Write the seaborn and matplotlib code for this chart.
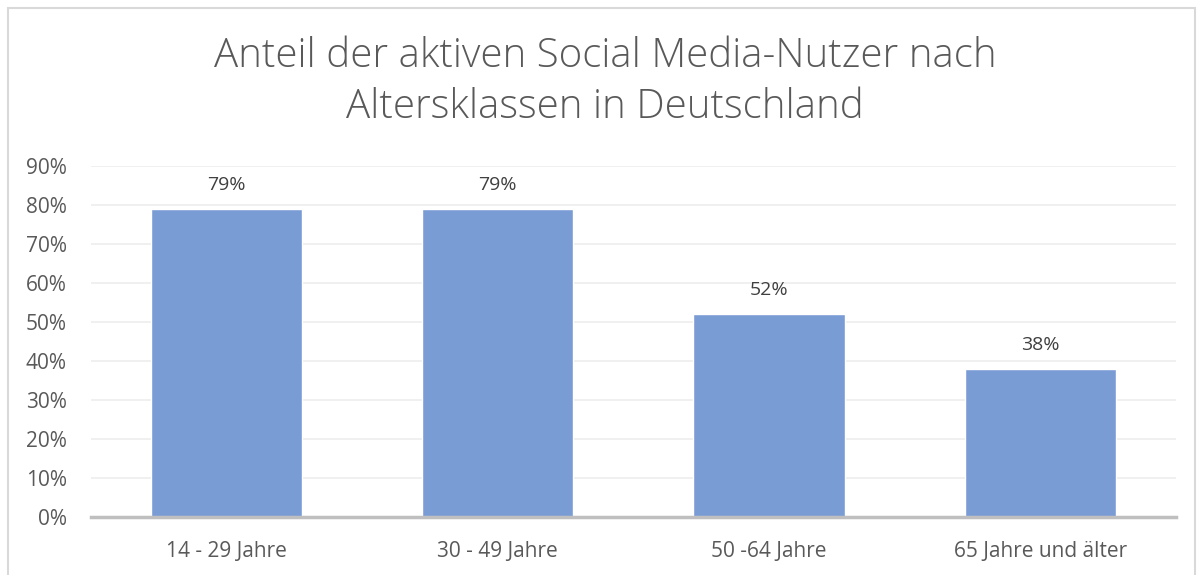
import matplotlib
matplotlib.use("Agg")
import matplotlib.pyplot as plt
import matplotlib.patches as mpatches
from matplotlib.ticker import PercentFormatter
import pandas as pd
import seaborn as sns

categories = ["14 - 29 Jahre", "30 - 49 Jahre", "50 -64 Jahre", "65 Jahre und älter"]
shares = [0.79, 0.79, 0.52, 0.38]
value_labels = ["79%", "79%", "52%", "38%"]
title = "Anteil der aktiven Social Media-Nutzer nach\nAltersklassen in Deutschland"

df = pd.DataFrame({"group": categories, "share": shares})

sns.set_style("white")
plt.rcParams["font.family"] = ["Open Sans", "DejaVu Sans"]

fig = plt.figure(figsize=(11.99, 5.75), dpi=100)
ax = fig.add_axes([90.5 / 1199, 1 - 517 / 575, (1176 - 90.5) / 1199, (517 - 166) / 575])

sns.barplot(data=df, x="group", y="share", color="#7A9CD5", saturation=1,
            width=0.557, ax=ax, zorder=3)

ax.set_ylim(0, 0.9)
ax.set_xlim(-0.5, 3.5)
ax.yaxis.set_major_formatter(PercentFormatter(1.0, decimals=0))
ax.set_yticks([i / 10 for i in range(10)])
ax.grid(axis="y", color="#EDEDED", linewidth=1.2, zorder=0)
ax.set_xlabel("")
ax.set_ylabel("")
for s in ["top", "right", "left"]:
    ax.spines[s].set_visible(False)
ax.spines["bottom"].set_color("#BFBFBF")
ax.spines["bottom"].set_linewidth(2.5)
ax.spines["bottom"].set_zorder(4)
ax.tick_params(axis="both", length=0, labelsize=15, labelcolor="#595959")
ax.tick_params(axis="x", pad=17)
ax.tick_params(axis="y", pad=17)

for i, (v, lab) in enumerate(zip(shares, value_labels)):
    ax.annotate(lab, (i, v), xytext=(0, 11), textcoords="offset points",
                ha="center", va="bottom", fontsize=14, color="#404040")

fig.text(605 / 1199, 1 - 82 / 575, title, ha="center", va="center",
         fontsize=29, color="#595959", fontweight="light", linespacing=1.32)

fig.patches.append(mpatches.Rectangle((8 / 1199, -0.01), (1195 - 8) / 1199, 1 - 8 / 575 + 0.01,
                                      transform=fig.transFigure, fill=False,
                                      edgecolor="#D9D9D9", linewidth=1.5))

fig.savefig("out.png", dpi=100)
